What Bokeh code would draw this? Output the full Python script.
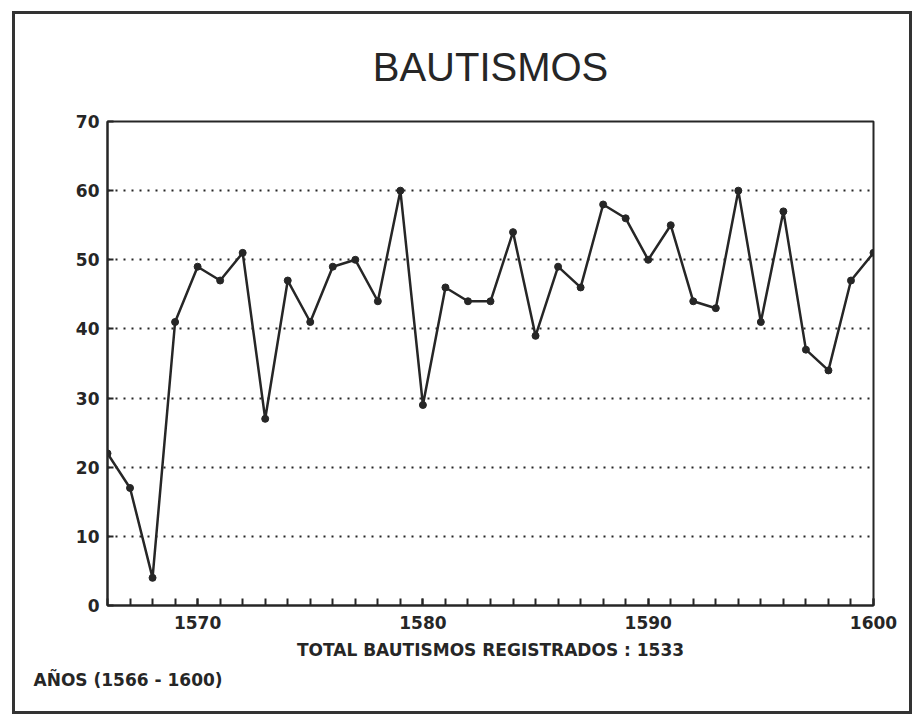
from bokeh.plotting import figure
from bokeh.models import FixedTicker, Range1d, Title
from bokeh.layouts import column
from bokeh.embed import file_html
from bokeh.resources import INLINE

years = list(range(1566, 1601))
bautismos = [22, 17, 4, 41, 49, 47, 51, 27, 47, 41,
             49, 50, 44, 60, 29, 46, 44, 44, 54, 39,
             49, 46, 58, 56, 50, 55, 44, 43, 60, 41,
             57, 37, 34, 47, 51]
x_major = [1570, 1580, 1590, 1600]
y_major = [0, 10, 20, 30, 40, 50, 60, 70]
grid_vals = [10, 20, 30, 40, 50, 60]
title_text = "BAUTISMOS"
xlabel_text = "TOTAL BAUTISMOS REGISTRADOS : 1533"
note_text = "AÑOS (1566 - 1600)"

INK = "#262626"
FONT = "DejaVu Sans"

W, H = 894, 697
p = figure(width=W, height=H, output_backend="svg", toolbar_location=None,
           x_range=Range1d(1566, 1600), y_range=Range1d(0, 70),
           min_border_left=92, min_border_right=36,
           min_border_top=107, min_border_bottom=106)
p.background_fill_color = "white"
p.border_fill_color = "white"
p.outline_line_color = INK
p.outline_line_width = 2

# title
p.title.text = title_text
p.title.align = "center"
p.title.vertical_align = "top"
p.title.text_font = "Liberation Sans"
p.title.text_font_style = "normal"
p.title.text_font_size = "40px"
p.title.text_color = INK
p.title.standoff = 61

# axes
p.xaxis.ticker = FixedTicker(ticks=x_major, minor_ticks=years)
p.yaxis.ticker = FixedTicker(ticks=y_major)
for ax in (p.xaxis, p.yaxis):
    ax.axis_line_color = INK
    ax.axis_line_width = 2
    ax.major_tick_line_color = INK
    ax.major_tick_line_width = 2
    ax.minor_tick_line_color = INK
    ax.minor_tick_line_width = 2
    ax.major_tick_out = 0
    ax.minor_tick_out = 0
    ax.major_label_text_font = FONT
    ax.major_label_text_font_style = "bold"
    ax.major_label_text_font_size = "17px"
    ax.major_label_text_color = INK
p.xaxis.major_tick_in = 7
p.xaxis.minor_tick_in = 7
p.yaxis.major_tick_in = 6
p.yaxis.minor_tick_line_color = None
p.xaxis.major_label_standoff = 10
p.yaxis.major_label_standoff = 8

p.xaxis.axis_label = xlabel_text
p.xaxis.axis_label_text_font = FONT
p.xaxis.axis_label_text_font_style = "bold"
p.xaxis.axis_label_text_font_size = "17px"
p.xaxis.axis_label_text_color = INK
p.xaxis.axis_label_standoff = 8

# grid
p.xgrid.grid_line_color = None
p.ygrid.ticker = FixedTicker(ticks=grid_vals)
p.ygrid.grid_line_color = INK
p.ygrid.grid_line_width = 2
p.ygrid.grid_line_dash = "2 6"

# data
p.line(years, bautismos, line_color=INK, line_width=2.5)
p.scatter(years, bautismos, size=7, fill_color=INK, line_color=INK)

# note below the axis label
note = Title(text=note_text, align="left", offset=-74, standoff=10,
             text_font=FONT, text_font_style="bold", text_font_size="17px",
             text_color=INK)
p.add_layout(note, "below")

layout = column(p, styles={"border": "3px solid #333", "margin-left": "12px",
                           "margin-top": "11px"})
open("out.html", "w").write(file_html(layout, INLINE))
